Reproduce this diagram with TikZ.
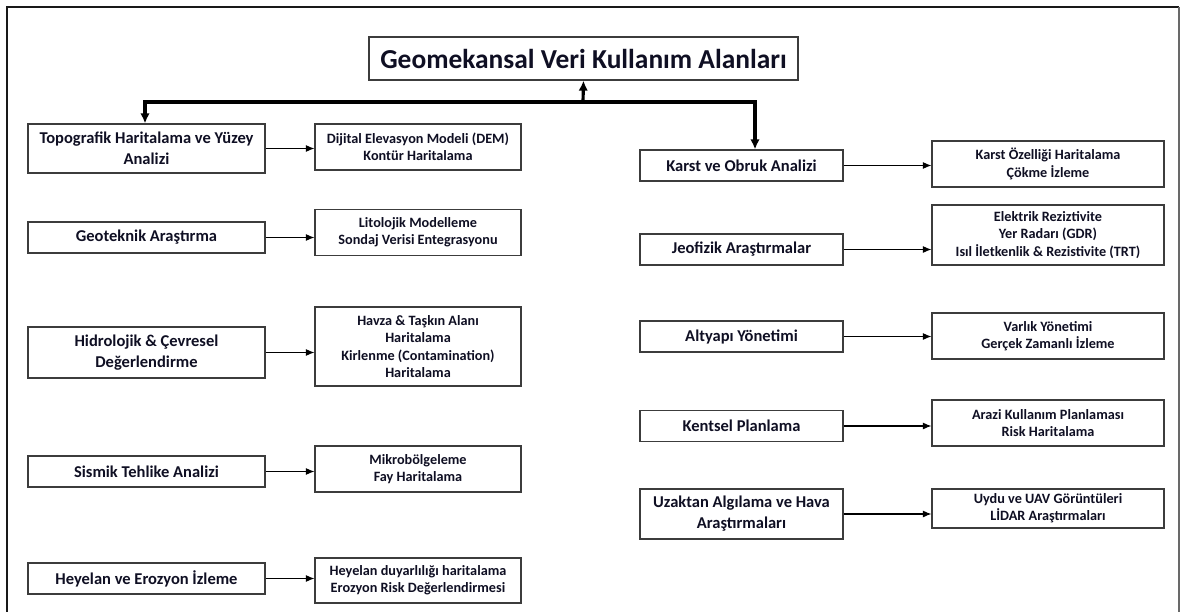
\documentclass[tikz,border=0pt]{standalone}
\usepackage{fontspec}
\setmainfont{Carlito}
\usetikzlibrary{arrows.meta,positioning}
\definecolor{framedark}{RGB}{25,25,25}
\definecolor{framegrey}{RGB}{105,105,105}
\definecolor{boxline}{RGB}{60,60,60}
\definecolor{textink}{RGB}{15,15,35}
\tikzset{
  x=0.02cm, y=-0.02cm,
  box/.style={
    draw=boxline,
    line width=0.7pt,
    fill=white,
    align=center,
    inner sep=2pt,
    text=textink
  },
  topicbox/.style={box, minimum width=4.74cm, minimum height=0.62cm,
    font=\bfseries\fontsize{9.4}{12}\selectfont},
  rtopicbox/.style={topicbox, minimum width=4.06cm},
  detailbox/.style={box, minimum width=4.12cm, minimum height=0.92cm,
    font=\bfseries\fontsize{8.1}{9.8}\selectfont},
  rdetailbox/.style={detailbox, minimum width=4.64cm},
  titlebox/.style={box, minimum width=8.58cm, minimum height=0.86cm,
    font=\bfseries\fontsize{15.6}{18}\selectfont},
  trunk/.style={line width=1.8pt, draw=black, -{Latex[length=2mm,width=1.9mm]}},
  link/.style={line width=0.6pt, draw=black, -{Latex[length=1.7mm,width=1.4mm]}}
}
\begin{document}
\begin{tikzpicture}
\useasboundingbox (0,0) rectangle (1181,612);
% frame, open at the bottom
\draw[framedark, line width=1.3pt] (7,612) -- (7,7) -- (1179,7);
\draw[framegrey, line width=1.3pt] (1179,7) -- (1179,612);

\node[titlebox] (title) at (583.5,58.5) {Geomekansal Veri Kullanım Alanları};

% left column
\node[topicbox, minimum height=0.98cm] (topo) at (146.5,148.5) {Topografik Haritalama ve Yüzey\\Analizi};
\node[topicbox] (geo) at (146.5,237.5) {Geoteknik Araştırma};
\node[topicbox, minimum height=1.02cm] (hidro) at (146.5,352.5) {Hidrolojik \& Çevresel\\Değerlendirme};
\node[topicbox] (sismik) at (146.5,471.5) {Sismik Tehlike Analizi};
\node[topicbox] (heyelan) at (146.5,578.5) {Heyelan ve Erozyon İzleme};

\node[detailbox] (dem) at (418,147) {Dijital Elevasyon Modeli (DEM)\\Kontür Haritalama};
\node[detailbox] (lito) at (418,232.5) {Litolojik Modelleme\\Sondaj Verisi Entegrasyonu};
\node[detailbox, minimum height=1.58cm] (havza) at (418,346.5) {Havza \& Taşkın Alanı\\Haritalama\\Kirlenme (Contamination)\\Haritalama};
\node[detailbox] (mikro) at (418,469) {Mikrobölgeleme\\Fay Haritalama};
\node[detailbox, minimum height=0.9cm] (duyar) at (418,580.5) {Heyelan duyarlılığı haritalama\\Erozyon Risk Değerlendirmesi};

% right column
\node[rtopicbox] (karst) at (741.5,165.5) {Karst ve Obruk Analizi};
\node[rtopicbox] (jeo) at (741.5,249.5) {Jeofizik Araştırmalar};
\node[rtopicbox] (alt) at (741.5,336.5) {Altyapı Yönetimi};
\node[rtopicbox] (kent) at (741.5,426) {Kentsel Planlama};
\node[rtopicbox, minimum height=1cm] (uzak) at (741.5,514) {Uzaktan Algılama ve Hava\\Araştırmaları};

\node[rdetailbox] (cokme) at (1048,164) {Karst Özelliği Haritalama\\Çökme İzleme};
\node[rdetailbox, minimum height=1.2cm] (radar) at (1048,235) {Elektrik Reziztivite\\Yer Radarı (GDR)\\Isıl İletkenlik \& Rezistivite (TRT)};
\node[rdetailbox] (varlik) at (1048,336) {Varlık Yönetimi\\Gerçek Zamanlı İzleme};
\node[rdetailbox] (arazi) at (1048,423) {Arazi Kullanım Planlaması\\Risk Haritalama};
\node[rdetailbox, minimum height=0.78cm] (uydu) at (1048,508.5) {Uydu ve UAV Görüntüleri\\LİDAR Araştırmaları};

% trunk lines
\coordinate (split) at (583,102);
\draw[trunk] (split) -- (title.south);
\draw[trunk] (split) -| ([xshift=-0.03cm]topo.north);
\draw[trunk] (split) -| ([xshift=0.27cm]karst.north);

\foreach \a/\b in {topo/dem,geo/lito,hidro/havza,sismik/mikro,heyelan/duyar,
  karst/cokme,jeo/radar,alt/varlik,kent/arazi,uzak/uydu}
  \draw[link] (\a.east) -- (\a.east -| \b.west);
\end{tikzpicture}
\end{document}
